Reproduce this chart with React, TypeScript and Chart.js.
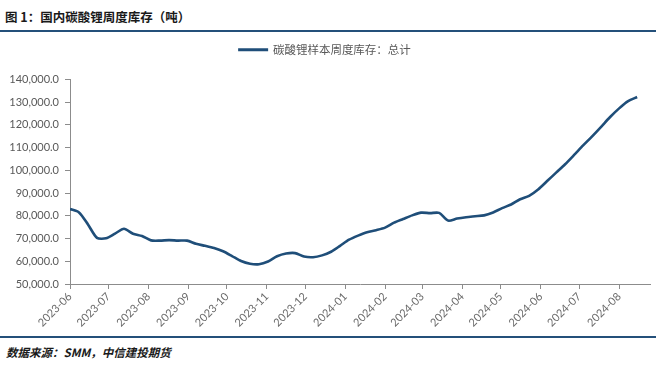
import React, { useEffect, useRef } from 'react';
import { Chart, registerables } from 'chart.js';

Chart.register(...registerables);

// ---- data ----
const titleText = '图 1：国内碳酸锂周度库存（吨）';
const sourceText = '数据来源：SMM，中信建投期货';
const seriesName = '碳酸锂样本周度库存：总计';

// first weekly observation date; observations are one week apart
const firstWeek = '2023-06-01';
const weekStepDays = 7;

const monthLabels = [
  '2023-06', '2023-07', '2023-08', '2023-09', '2023-10', '2023-11', '2023-12',
  '2024-01', '2024-02', '2024-03', '2024-04', '2024-05', '2024-06', '2024-07', '2024-08',
];

// weekly inventory (tonnes)
const inventory = [
  83000, 81500, 76200, 70300, 70100, 72200, 74300, 72100, 71100, 69200,
  69100, 69300, 69100, 69100, 67700, 66800, 65800, 64400, 62300, 60100,
  58900, 58700, 59900, 62200, 63400, 63600, 62100, 61800, 62600, 64200,
  66800, 69500, 71300, 72800, 73700, 74800, 77000, 78600, 80200, 81400,
  81200, 81300, 77900, 78800, 79400, 79800, 80200, 81500, 83400, 85000,
  87300, 88800, 91600, 95300, 99000, 102700, 106800, 111000, 115000, 119200,
  123500, 127300, 130500, 132300,
];

const yMin = 50000;
const yMax = 140000;
const yStep = 10000;
const xAxisEnd = '2024-08-25';

// ---- helpers ----
const DAY = 86400000;
const toUTC = (s: string) => {
  const [y, m, d] = s.split('-').map(Number);
  return Date.UTC(y, m - 1, d || 1);
};
const origin = toUTC(firstWeek);
const monthDays = monthLabels.map((l) => (toUTC(l) - origin) / DAY);
const xMax = (toUTC(xAxisEnd) - origin) / DAY;

const LINE = '#1f4e79';
const AXIS = '#8c8c8c';
const TEXT = '#595959';
const LATIN = 'Lato, "Noto Sans CJK SC", sans-serif';
const CJK = '"Noto Sans CJK SC", sans-serif';

const legendGap = {
  id: 'legendGap',
  afterInit(chart: any) {
    const lg = chart.legend;
    if (!lg) return;
    const orig = lg.fit;
    lg.fit = function () {
      orig.call(this);
      this.height += 14;
    };
  },
};

export default function App() {
  const ref = useRef<HTMLCanvasElement | null>(null);

  useEffect(() => {
    document.body.style.margin = '0';
    if (!ref.current) return;
    const chart = new Chart(ref.current, {
      type: 'line',
      data: {
        datasets: [
          {
            label: seriesName,
            data: inventory.map((v, i) => ({ x: i * weekStepDays, y: v })),
            borderColor: LINE,
            backgroundColor: LINE,
            borderWidth: 2.6,
            pointRadius: 0,
            tension: 0.25,
            fill: false,
          },
        ],
      },
      options: {
        animation: false,
        responsive: false,
        maintainAspectRatio: false,
        layout: { padding: { top: 2, right: 6, left: 0, bottom: 0 } },
        plugins: {
          legend: {
            display: true,
            position: 'top',
            labels: {
              boxWidth: 28,
              boxHeight: 1,
              padding: 10,
              color: TEXT,
              font: { family: CJK, size: 11.5 },
              generateLabels: (c: any) =>
                Chart.defaults.plugins.legend.labels
                  .generateLabels(c)
                  .map((it: any) => ({ ...it, lineWidth: 2 })),
            },
          },
          tooltip: { enabled: false },
        },
        scales: {
          x: {
            type: 'linear',
            min: 0,
            max: xMax,
            afterBuildTicks: (s: any) => {
              s.ticks = monthDays.map((v) => ({ value: v }));
            },
            afterFit: (s: any) => {
              s.height = 50;
            },
            ticks: {
              autoSkip: false,
              minRotation: 45,
              maxRotation: 45,
              padding: 1,
              color: '#6a6a6a',
              font: { family: LATIN, size: 11 },
              callback: (_v: any, i: number) => monthLabels[i],
            },
            grid: {
              display: true,
              drawOnChartArea: false,
              drawTicks: true,
              tickLength: 5,
              color: AXIS,
            },
            border: { display: true, color: AXIS, width: 1 },
          },
          y: {
            min: yMin,
            max: yMax,
            afterFit: (s: any) => {
              s.width = 70;
            },
            ticks: {
              stepSize: yStep,
              padding: 6,
              color: TEXT,
              font: { family: LATIN, size: 11 },
              callback: (v: any) =>
                Number(v).toLocaleString('en-US', {
                  minimumFractionDigits: 1,
                  maximumFractionDigits: 1,
                }),
            },
            grid: {
              display: true,
              drawOnChartArea: false,
              drawTicks: true,
              tickLength: 5,
              color: AXIS,
            },
            border: { display: true, color: AXIS, width: 1 },
          },
        },
      },
      plugins: [legendGap],
    } as any);
    return () => chart.destroy();
  }, []);

  return (
    <div
      style={{
        position: 'relative',
        width: 656,
        height: 369,
        background: '#ffffff',
        overflow: 'hidden',
      }}
    >
      <div
        style={{
          position: 'absolute',
          left: 5,
          top: 8,
          fontFamily: CJK,
          fontWeight: 700,
          fontSize: 12.5,
          lineHeight: '18px',
          color: '#1a1a1a',
          whiteSpace: 'nowrap',
        }}
      >
        {titleText}
      </div>
      <div
        style={{
          position: 'absolute',
          left: 0,
          top: 30,
          width: 656,
          height: 2,
          background: '#24507a',
        }}
      />
      <canvas
        ref={ref}
        width={656}
        height={302}
        style={{ position: 'absolute', left: 0, top: 32, width: 656, height: 302 }}
      />
      <div
        style={{
          position: 'absolute',
          left: 0,
          top: 336,
          width: 656,
          height: 2,
          background: '#24507a',
        }}
      />
      <div
        style={{
          position: 'absolute',
          left: 6,
          top: 343,
          fontFamily: CJK,
          fontWeight: 700,
          fontStyle: 'italic',
          fontSize: 11.5,
          lineHeight: '18px',
          color: '#1a1a1a',
          whiteSpace: 'nowrap',
        }}
      >
        {sourceText}
      </div>
    </div>
  );
}
